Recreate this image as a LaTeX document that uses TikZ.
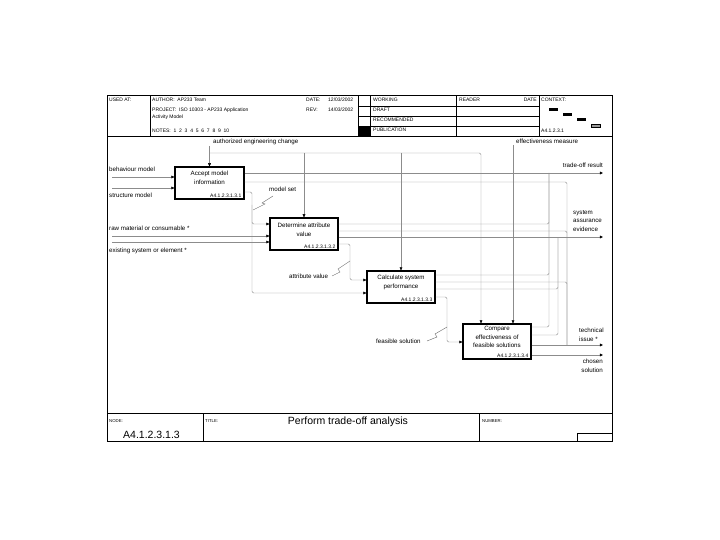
\documentclass[tikz,border=0pt]{standalone}
\usepackage{fontspec}
\setmainfont{Liberation Sans}
\usetikzlibrary{arrows.meta,calc}

\begin{document}
\begin{tikzpicture}[x=1pt,y=-1pt,
  frameline/.style={draw=black, line width=0.5pt},
  flow/.style={draw=black!45, line width=0.45pt, rounded corners=1.5pt},
  into/.style={flow, -{Triangle[length=3.2pt,width=2.8pt,color=black]}},
  actbox/.style={draw=black, line width=1.1pt, inner sep=0pt},
  lbl/.style={font=\fontsize{6.2}{8.7}\selectfont, inner sep=0pt},
  hdr/.style={font=\fontsize{5}{6}\selectfont, inner sep=0pt, anchor=base west},
  tiny/.style={font=\fontsize{4.3}{5}\selectfont, inner sep=0pt, anchor=base west},
  boxid/.style={font=\fontsize{5}{6}\selectfont, inner sep=0pt, anchor=south east},
  squig/.style={draw=black!60, line width=0.4pt}
]
\useasboundingbox (0,0) rectangle (720,540);

% ---------- sheet frame ----------
\draw[line width=1pt] (107,96) rectangle (612,441);
\draw[frameline] (107,136) -- (612,136);
\foreach \x in {150,358,370,456,539} \draw[frameline] (\x,96) -- (\x,136);
\foreach \y in {106,116,126} \draw[frameline] (358,\y) -- (539,\y);
\fill[black] (358,126) rectangle (370,136);
\draw[frameline] (107,413) -- (612,413);
\draw[frameline] (203,413) -- (203,441);
\draw[frameline] (479,413) -- (479,441);
\draw[frameline] (577,441) -- (577,433) -- (612,433);

% header texts
\node[hdr] (usedat) at (109,102) {USED AT:};
\node[hdr] (author) at (152,102) {AUTHOR:\ \ AP233 Team};
\node[hdr] (project) at (152,112) {PROJECT:\ \ ISO 10303 - AP233 Application};
\node[hdr] (project2) at (152,119) {Activity Model};
\node[hdr] (notes) at (152,133) {NOTES:\ \ 1\ \ 2\ \ 3\ \ 4\ \ 5\ \ 6\ \ 7\ \ 8\ \ 9\ \ 10};
\node[hdr] (date) at (306,102) {DATE:};
\node[hdr] (dateval) at (328,102) {12/03/2002};
\node[hdr] (rev) at (306,112) {REV:};
\node[hdr] (revval) at (328,112) {14/03/2002};
\node[hdr] (working) at (373,102) {WORKING};
\node[hdr] (draft) at (373,112) {DRAFT};
\node[hdr] (recom) at (373,122) {RECOMMENDED};
\node[hdr] (public) at (373,132) {PUBLICATION};
\node[hdr] (reader) at (459,102) {READER};
\node[hdr, anchor=base east] (rdate) at (537,102) {DATE};
\node[hdr] (context) at (541,102) {CONTEXT:};
\node[hdr] (ctxnode) at (541,133) {A4.1.2.3.1};
% context marks
\fill[black] (549,108.5) rectangle (558,111);
\fill[black] (563,113.5) rectangle (572,116);
\fill[black] (577,118.5) rectangle (586,121.5);
\draw[fill=black!40, line width=0.5pt] (591,124) rectangle (600,127);

% footer texts
\node[tiny] (nodelbl) at (109,422) {NODE:};
\node[font=\fontsize{10.5}{12}\selectfont, inner sep=0pt, anchor=base west] (nodeval) at (123,438) {A4.1.2.3.1.3};
\node[tiny] (titlelbl) at (205,422) {TITLE:};
\node[font=\fontsize{10.5}{12}\selectfont, inner sep=0pt, anchor=base] (title) at (348,424.5) {Perform trade-off analysis};
\node[tiny] (numlbl) at (482,422) {NUMBER:};

% ---------- activity boxes ----------
\node[actbox, minimum width=69pt, minimum height=32pt] (b1) at (209.5,183) {};
\node[actbox, minimum width=68pt, minimum height=32pt] (b2) at (304,234) {};
\node[actbox, minimum width=68pt, minimum height=32pt] (b3) at (401,287) {};
\node[actbox, minimum width=68pt, minimum height=35pt] (b4) at (497,341.5) {};

\node[lbl, align=center] (t1) at (209.5,178) {Accept model\\information};
\node[lbl, align=center] (t2) at (304,229.5) {Determine attribute\\value};
\node[lbl, align=center] (t3) at (401,282.5) {Calculate system\\performance};
\node[lbl, align=center] (t4) at (497,337) {Compare\\effectiveness of\\feasible solutions};

\node[boxid] (i1) at ($(b1.south east)+(-3,-1.5)$) {A4.1.2.3.1.3.1};
\node[boxid] (i2) at ($(b2.south east)+(-3,-1.5)$) {A4.1.2.3.1.3.2};
\node[boxid] (i3) at ($(b3.south east)+(-3,-1.5)$) {A4.1.2.3.1.3.3};
\node[boxid] (i4) at ($(b4.south east)+(-3,-1.5)$) {A4.1.2.3.1.3.4};

% ---------- boundary ends ----------
\coordinate (behav) at (112,177);
\coordinate (struct) at (112,188);
\coordinate (raw) at (112,236);
\coordinate (exist) at (112,242);
\coordinate (aec) at (209.5,146);
\coordinate (eff) at (513,145);
\coordinate (trade) at (603,173);
\coordinate (evid) at (603,237);
\coordinate (tech) at (603,345);
\coordinate (chosen) at (603,355);

% boundary labels
\node[lbl, anchor=base west] (behavlbl) at (109,171.5) {behaviour model};
\node[lbl, anchor=base west] (structlbl) at (109,198) {structure model};
\node[lbl, anchor=base west] (rawlbl) at (109,230.5) {raw material or consumable *};
\node[lbl, anchor=base west] (existlbl) at (109,252) {existing system or element *};
\node[lbl, anchor=base west] (aeclbl) at (213,144) {authorized engineering change};
\node[lbl, anchor=base west] (efflbl) at (516,144) {effectiveness measure};
\node[lbl, anchor=base east] (tradelbl) at (603,168) {trade-off result};
\node[lbl, anchor=north west, align=left] (evidlbl) at (573,210) {system\\assurance\\evidence};
\node[lbl, anchor=north west, align=left] (techlbl) at (579,328) {technical\\issue *};
\node[lbl, anchor=north east, align=right] (chosenlbl) at (603,359) {chosen\\solution};

% ---------- inputs ----------
\draw[into] (behav) -- (b1.west |- behav);
\draw[into] (struct) -- (b1.west |- struct);
\draw[into] (raw) -- (b2.west |- raw);
\draw[into] (exist) -- (b2.west |- exist);

% ---------- controls ----------
\draw[into] (aec) -- (b1.north);
\draw[into] (209.5,153) -| (b4.north -| 481,0);
\draw[into] (b2.north |- 0,153) -- (b2.north);
\draw[into] (b3.north |- 0,153) -- (b3.north);
\draw[into] (eff) -- (b4.north -| eff);

% ---------- internal arrows ----------
% model set
\draw[into] (b1.east |- 0,192) -- (252,192) -- (252,293) -- (b3.west |- 0,293);
\draw[into] (252,205) |- (b2.west |- 0,224);
\node[lbl, anchor=base west] (mslbl) at (269,192) {model set};
\draw[squig] (273,196) -- (262,203) -- (265,204) -- (253,210);
% attribute value
\draw[into] (b2.east |- 0,244) -- (350,244) -- (350,280) -- (b3.west |- 0,280);
\node[lbl, anchor=base west] (avlbl) at (289,278) {attribute value};
\draw[squig] (332,276) -- (340,272) -- (338,269) -- (350,261);
% feasible solution
\draw[into] (b3.east |- 0,297) -- (447,297) -- (447,342) -- (b4.west |- 0,342);
\node[lbl, anchor=base west] (fslbl) at (376,343) {feasible solution};
\draw[squig] (427,341) -- (437,337) -- (435,334) -- (447,327);

% ---------- outputs ----------
% trade-off result
\draw[into] (b1.east |- trade) -- (trade);
\draw[flow] (b2.east |- 0,224) -| (549,173);
\draw[flow] (b3.east |- 0,275) -| (549,173);
\draw[flow] (b4.east |- 0,327) -| (549,173);
% system assurance evidence
\draw[into] (b2.east |- evid) -- (evid);
\draw[flow] (b3.east |- 0,289) -| (558,237);
\draw[flow] (b4.east |- 0,335) -| (558,237);
% technical issue
\draw[flow] (b1.east |- 0,182) -| (567,345);
\draw[flow] (b2.east |- 0,231) -| (567,345);
\draw[flow] (b3.east |- 0,282) -| (567,345);
\draw[into] (b4.east |- tech) -- (tech);
% chosen solution
\draw[into] (b4.east |- chosen) -- (chosen);

\end{tikzpicture}
\end{document}
